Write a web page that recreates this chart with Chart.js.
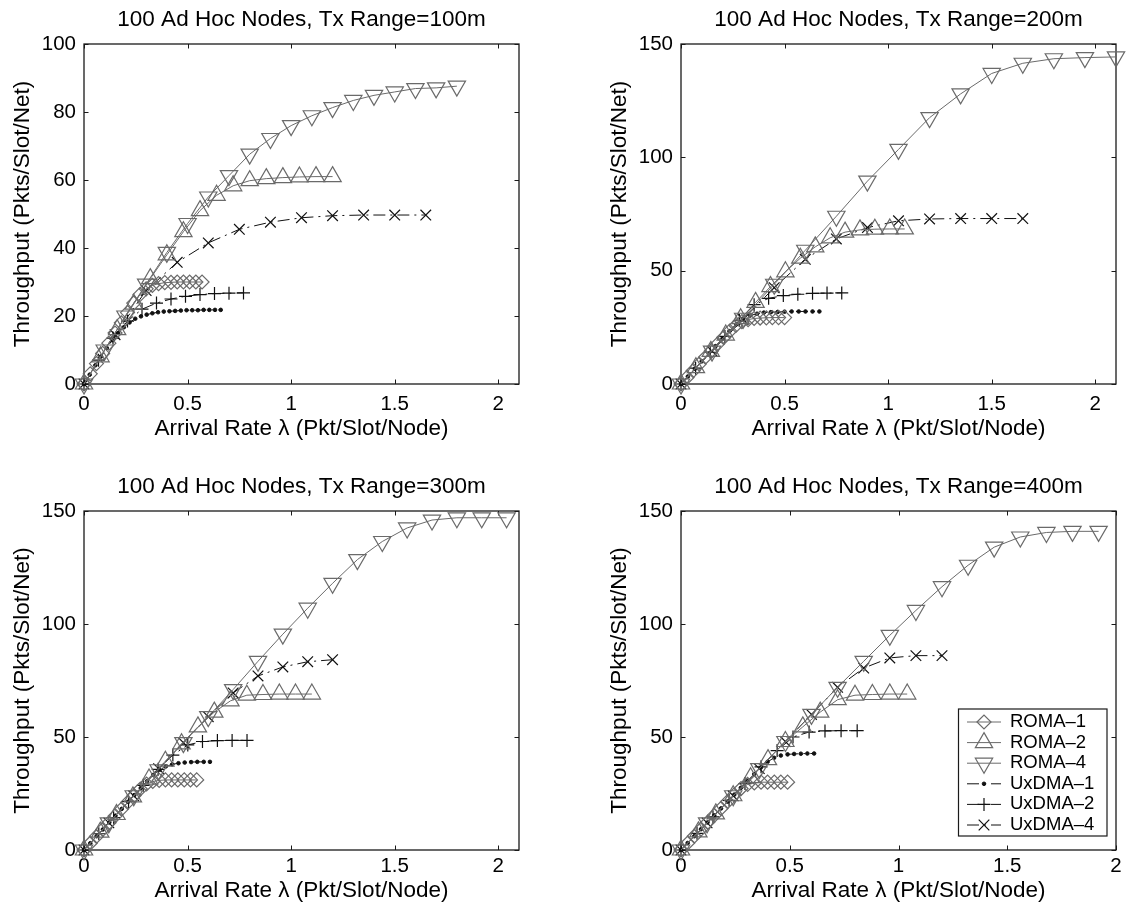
<!DOCTYPE html>
<html>
<head>
<meta charset="utf-8">
<script src="https://cdn.jsdelivr.net/npm/chart.js@4.4.1/dist/chart.umd.min.js"></script>
<style>
html,body{margin:0;padding:0;background:#fff;}
body{width:1128px;height:913px;position:relative;overflow:hidden;}
canvas{position:absolute;display:block;}
</style>
</head>
<body>
<canvas id="c1" width="564" height="456" style="left:0;top:0;width:564px;height:456px"></canvas>
<canvas id="c2" width="564" height="456" style="left:564px;top:0;width:564px;height:456px"></canvas>
<canvas id="c3" width="564" height="457" style="left:0;top:456px;width:564px;height:457px"></canvas>
<canvas id="c4" width="564" height="457" style="left:564px;top:456px;width:564px;height:457px"></canvas>
<script>
// ---------- text ----------
const seriesLabels = ['ROMA–1', 'ROMA–2', 'ROMA–4', 'UxDMA–1', 'UxDMA–2', 'UxDMA–4'];
const panelTitles = [
  '100 Ad Hoc Nodes, Tx Range=100m',
  '100 Ad Hoc Nodes, Tx Range=200m',
  '100 Ad Hoc Nodes, Tx Range=300m',
  '100 Ad Hoc Nodes, Tx Range=400m'
];
const xAxisTitle = 'Arrival Rate λ (Pkt/Slot/Node)';
const yAxisTitle = 'Throughput (Pkts/Slot/Net)';
const xTickValues = [0, 0.5, 1, 1.5, 2];
const yTicks100 = [0, 20, 40, 60, 80, 100];
const yTicks150 = [0, 50, 100, 150];

// ---------- Tx Range = 100m ----------
const r100_roma1_x = [0,0.03,0.06,0.09,0.12,0.15,0.18,0.21,0.24,0.27,0.3,0.33,0.36,0.39,0.42,0.45,0.48,0.51,0.54,0.57];
const r100_roma1_y = [0,3,6,9,12,15,18,21,23.8,26.3,28,29,29.5,29.8,29.9,30,30,30,30,30];
const r100_roma2_x = [0,0.08,0.16,0.24,0.32,0.4,0.48,0.56,0.64,0.72,0.8,0.88,0.96,1.04,1.12,1.2];
const r100_roma2_y = [0,8,16,23.5,31,38,44.8,51,55.5,58.3,59.8,60.4,60.7,60.9,61,61];
const r100_roma4_x = [0,0.1,0.2,0.3,0.4,0.5,0.6,0.7,0.8,0.9,1.0,1.1,1.2,1.3,1.4,1.5,1.6,1.7,1.8];
const r100_roma4_y = [0,10,20,29.4,38.7,47.2,55,61.3,67.6,72.2,76,78.9,81.3,83.4,84.9,85.9,86.9,87.1,87.6];
const r100_ux1_x = [0,0.0275,0.055,0.0825,0.11,0.1375,0.165,0.1925,0.22,0.2475,0.275,0.3025,0.33,0.3575,0.385,0.4125,0.44,0.4675,0.495,0.5225,0.55,0.5775,0.605,0.6325,0.66];
const r100_ux1_y = [0,2.75,5.5,8.1,10.6,12.9,15,16.7,18.1,19.2,19.9,20.4,20.8,21.1,21.3,21.4,21.5,21.6,21.7,21.7,21.7,21.8,21.8,21.8,21.8];
const r100_ux2_x = [0,0.07,0.14,0.21,0.28,0.35,0.42,0.49,0.56,0.63,0.7,0.77];
const r100_ux2_y = [0,7,13.5,18.5,22,23.8,25,25.8,26.3,26.6,26.7,26.8];
const r100_ux4_x = [0,0.15,0.3,0.45,0.6,0.75,0.9,1.05,1.2,1.35,1.5,1.65];
const r100_ux4_y = [0,14.5,27.5,35.8,41.5,45.5,47.6,48.9,49.5,49.7,49.7,49.7];

// ---------- Tx Range = 200m ----------
const r200_roma1_x = [0,0.029,0.059,0.088,0.118,0.147,0.176,0.206,0.235,0.265,0.294,0.324,0.353,0.382,0.412,0.441,0.471,0.5];
const r200_roma1_y = [0,2.9,5.9,8.8,11.8,14.7,17.6,20.5,23.3,25.8,27.5,28.4,28.9,29.1,29.2,29.3,29.3,29.3];
const r200_roma2_x = [0,0.072,0.144,0.216,0.288,0.36,0.432,0.504,0.576,0.648,0.72,0.792,0.864,0.936,1.008,1.08];
const r200_roma2_y = [0,7.2,14.4,21.6,28.8,36,43,49.5,55.5,60.5,64.5,67,68,68.3,68.4,68.4];
const r200_roma4_x = [0,0.15,0.3,0.45,0.6,0.75,0.9,1.05,1.2,1.35,1.5,1.65,1.8,1.95,2.1];
const r200_roma4_y = [0,14.5,29,44,59,74,89.5,103.5,117.5,128,137,141.5,143.5,144,144.3];
const r200_ux1_x = [0,0.033,0.067,0.1,0.134,0.167,0.2,0.234,0.267,0.3,0.334,0.367,0.4,0.434,0.467,0.5,0.534,0.568,0.601,0.635,0.668];
const r200_ux1_y = [0,3.3,6.7,10,13.4,16.7,20,23.3,26.3,28.6,30.2,31,31.5,31.7,31.8,31.9,32,32,32,32,32];
const r200_ux2_x = [0,0.0705,0.141,0.212,0.282,0.353,0.423,0.494,0.564,0.635,0.705,0.776];
const r200_ux2_y = [0,7,14,21,28,35,37.8,39,39.6,40,40.1,40.2];
const r200_ux4_x = [0,0.15,0.3,0.45,0.6,0.75,0.9,1.05,1.2,1.35,1.5,1.65];
const r200_ux4_y = [0,14.5,28.5,42.5,55,64,69,72,72.8,73,73,73];

// ---------- Tx Range = 300m ----------
const r300_roma1_x = [0,0.03,0.06,0.091,0.121,0.151,0.181,0.211,0.242,0.272,0.302,0.332,0.363,0.393,0.423,0.453,0.484,0.514,0.544];
const r300_roma1_y = [0,3,6,9.1,12.1,15.1,18.1,21.1,24.1,27,29.2,30.3,30.8,31,31,31,31,31,31];
const r300_roma2_x = [0,0.0786,0.157,0.236,0.314,0.393,0.471,0.55,0.629,0.707,0.786,0.864,0.943,1.021,1.1];
const r300_roma2_y = [0,7.9,15.7,23.5,31.4,39.3,47,54.5,61,66,68.5,68.8,69,69,69];
const r300_roma4_x = [0,0.12,0.24,0.36,0.48,0.6,0.72,0.84,0.96,1.08,1.2,1.32,1.44,1.56,1.68,1.8,1.92,2.04];
const r300_roma4_y = [0,12,24,35.5,47.5,59,71,83.5,95.5,107,118,128.5,136.5,142.5,146,147,147,147];
const r300_ux1_x = [0,0.0304,0.0608,0.0912,0.122,0.152,0.182,0.213,0.243,0.274,0.304,0.334,0.365,0.395,0.426,0.456,0.486,0.517,0.547,0.578,0.608];
const r300_ux1_y = [0,3,6.1,9.1,12.2,15.2,18.2,21.3,24.3,27.4,30.4,33.2,35.5,37,37.9,38.4,38.7,38.9,39,39,39];
const r300_ux2_x = [0,0.0715,0.143,0.215,0.286,0.358,0.429,0.501,0.572,0.644,0.715,0.787];
const r300_ux2_y = [0,7.2,14.3,21.5,28.6,35.7,42,46.5,48,48.4,48.5,48.5];
const r300_ux4_x = [0,0.12,0.24,0.36,0.48,0.6,0.72,0.84,0.96,1.08,1.2];
const r300_ux4_y = [0,12,24,36,47.5,59,69.5,77,81,83.3,84.2];

// ---------- Tx Range = 400m ----------
const r400_roma1_x = [0,0.031,0.061,0.092,0.123,0.153,0.184,0.214,0.245,0.276,0.306,0.337,0.368,0.398,0.429,0.459,0.49];
const r400_roma1_y = [0,3.1,6.1,9.2,12.3,15.3,18.4,21.4,24.4,27.2,29,29.7,30,30,30,30,30];
const r400_roma2_x = [0,0.08,0.16,0.24,0.32,0.4,0.48,0.56,0.64,0.72,0.8,0.88,0.96,1.04];
const r400_roma2_y = [0,8,16,24,32,40,48,54.5,61,66.5,68.5,68.8,69,69];
const r400_roma4_x = [0,0.12,0.24,0.36,0.48,0.6,0.72,0.84,0.96,1.08,1.2,1.32,1.44,1.56,1.68,1.8,1.92];
const r400_roma4_y = [0,12,24,36,48,60,72,83.5,95,106,116.5,126,134,138.5,140.5,141,141];
const r400_ux1_x = [0,0.0306,0.0612,0.0918,0.122,0.153,0.184,0.214,0.245,0.275,0.306,0.337,0.367,0.398,0.428,0.459,0.49,0.52,0.551,0.581,0.612];
const r400_ux1_y = [0,3.1,6.1,9.2,12.2,15.3,18.4,21.4,24.5,27.5,30.6,33.6,36.5,39,40.8,41.8,42.3,42.5,42.6,42.7,42.7];
const r400_ux2_x = [0,0.0736,0.147,0.221,0.294,0.368,0.442,0.515,0.589,0.662,0.736,0.81];
const r400_ux2_y = [0,7.4,14.7,22,29.4,36.8,44,50,52.2,52.7,52.8,52.8];
const r400_ux4_x = [0,0.12,0.24,0.36,0.48,0.6,0.72,0.84,0.96,1.08,1.2];
const r400_ux4_y = [0,12,24,36,48,60,72,80.5,85,86,86];

// ---------- styles ----------
const FONT = '"Liberation Sans", Arial, Helvetica, sans-serif';
const GREY = '#6a6a6a';
const BLACK = '#111111';
const NOFILL = 'rgba(0,0,0,0)';
const DASHDOT = [12, 5, 2, 5];
const seriesStyles = [
  {color: GREY,  pointStyle: 'rectRot',  radius: 7,   rotation: 0,   dash: [],      fill: NOFILL, pw: 1.2},
  {color: GREY,  pointStyle: 'triangle', radius: 10,  rotation: 0,   dash: [],      fill: NOFILL, pw: 1.2},
  {color: GREY,  pointStyle: 'triangle', radius: 10,  rotation: 180, dash: [],      fill: NOFILL, pw: 1.2},
  {color: BLACK, pointStyle: 'circle',   radius: 1.8, rotation: 0,   dash: DASHDOT, fill: BLACK,  pw: 1},
  {color: BLACK, pointStyle: 'cross',    radius: 6.5, rotation: 0,   dash: DASHDOT, fill: NOFILL, pw: 1.2},
  {color: BLACK, pointStyle: 'crossRot', radius: 7.5, rotation: 0,   dash: DASHDOT, fill: NOFILL, pw: 1.2}
];

function pts(xs, ys) { return xs.map((v, i) => ({x: v, y: ys[i]})); }

const panelSeries = [
  [[r100_roma1_x, r100_roma1_y], [r100_roma2_x, r100_roma2_y], [r100_roma4_x, r100_roma4_y], [r100_ux1_x, r100_ux1_y], [r100_ux2_x, r100_ux2_y], [r100_ux4_x, r100_ux4_y]],
  [[r200_roma1_x, r200_roma1_y], [r200_roma2_x, r200_roma2_y], [r200_roma4_x, r200_roma4_y], [r200_ux1_x, r200_ux1_y], [r200_ux2_x, r200_ux2_y], [r200_ux4_x, r200_ux4_y]],
  [[r300_roma1_x, r300_roma1_y], [r300_roma2_x, r300_roma2_y], [r300_roma4_x, r300_roma4_y], [r300_ux1_x, r300_ux1_y], [r300_ux2_x, r300_ux2_y], [r300_ux4_x, r300_ux4_y]],
  [[r400_roma1_x, r400_roma1_y], [r400_roma2_x, r400_roma2_y], [r400_roma4_x, r400_roma4_y], [r400_ux1_x, r400_ux1_y], [r400_ux2_x, r400_ux2_y], [r400_ux4_x, r400_ux4_y]]
];

const panelLayout = [
  {id: 'c1', xMax: 2.1, yMax: 100, yTicks: yTicks100, pad: {left: 9,  top: 6.5,  right: 45, bottom: 13.5}, xH: 58.5, xTickPad: 7.7, legend: false},
  {id: 'c2', xMax: 2.1, yMax: 150, yTicks: yTicks150, pad: {left: 42, top: 6.5,  right: 12, bottom: 13.5}, xH: 58.5, xTickPad: 7.7, legend: false},
  {id: 'c3', xMax: 2.1, yMax: 150, yTicks: yTicks150, pad: {left: 9,  top: 17.5, right: 45, bottom: 8.5},  xH: 54.5, xTickPad: 3.7, legend: false},
  {id: 'c4', xMax: 2.0, yMax: 150, yTicks: yTicks150, pad: {left: 42, top: 17.5, right: 12, bottom: 8.5},  xH: 54.5, xTickPad: 3.7, legend: true}
];

// frame box + inward tick marks (positions from the chart's scales)
const frameTicks = {
  id: 'frameTicks',
  beforeDatasetsDraw(chart) {
    const {ctx, chartArea: a} = chart;
    const sx = chart.scales.x, sy = chart.scales.y;
    const L = 4.5;
    ctx.save();
    ctx.strokeStyle = '#1a1a1a';
    ctx.lineWidth = 1;
    ctx.beginPath();
    sx.ticks.forEach(t => {
      const p = Math.round(sx.getPixelForValue(t.value)) + 0.5;
      ctx.moveTo(p, a.bottom); ctx.lineTo(p, a.bottom - L);
      ctx.moveTo(p, a.top); ctx.lineTo(p, a.top + L);
    });
    sy.ticks.forEach(t => {
      const p = Math.round(sy.getPixelForValue(t.value)) + 0.5;
      ctx.moveTo(a.left, p); ctx.lineTo(a.left + L, p);
      ctx.moveTo(a.right, p); ctx.lineTo(a.right - L, p);
    });
    ctx.stroke();
    ctx.lineWidth = 1.3;
    ctx.strokeRect(a.left, a.top, a.right - a.left, a.bottom - a.top);
    ctx.restore();
  }
};

// inset legend box inside the plot area
const insetLegend = {
  id: 'insetLegend',
  afterDatasetsDraw(chart, args, opts) {
    if (!opts || !opts.show) return;
    const {ctx, chartArea: a} = chart;
    const w = 148.5, h = 127;
    const bx = a.right - 9 - w, by = a.bottom - 14 - h;
    ctx.save();
    ctx.fillStyle = '#fff';
    ctx.fillRect(bx, by, w, h);
    ctx.strokeStyle = '#1a1a1a';
    ctx.lineWidth = 1.2;
    ctx.strokeRect(bx, by, w, h);
    ctx.font = '18.5px ' + FONT;
    ctx.textBaseline = 'middle';
    ctx.textAlign = 'left';
    chart.data.datasets.forEach((ds, i) => {
      const cy = by + 13 + i * 20.6;
      ctx.strokeStyle = ds.borderColor;
      ctx.lineWidth = ds.borderWidth;
      ctx.setLineDash(ds.borderDash || []);
      ctx.beginPath();
      ctx.moveTo(bx + 8.5, cy);
      ctx.lineTo(bx + 42.5, cy);
      ctx.stroke();
      ctx.setLineDash([]);
      ctx.strokeStyle = ds.pointBorderColor;
      ctx.fillStyle = ds.pointBackgroundColor;
      ctx.lineWidth = ds.pointBorderWidth;
      Chart.helpers.drawPoint(ctx, {
        pointStyle: ds.pointStyle, rotation: ds.pointRotation || 0,
        radius: ds.pointRadius, borderWidth: ds.pointBorderWidth
      }, bx + 25.5, cy);
      ctx.fillStyle = '#000';
      ctx.fillText(ds.label, bx + 51.5, cy);
    });
    ctx.restore();
  }
};

Chart.defaults.font.family = FONT;
Chart.defaults.color = '#000';

panelLayout.forEach((pl, k) => {
  const datasets = panelSeries[k].map((s, i) => {
    const st = seriesStyles[i];
    return {
      label: seriesLabels[i],
      data: pts(s[0], s[1]),
      showLine: true,
      borderColor: st.color,
      borderWidth: 1,
      borderDash: st.dash,
      pointStyle: st.pointStyle,
      pointRadius: st.radius,
      pointRotation: st.rotation,
      pointBorderColor: st.color,
      pointBackgroundColor: st.fill,
      pointBorderWidth: st.pw,
      pointHoverRadius: st.radius,
      tension: 0,
      clip: false
    };
  });
  new Chart(document.getElementById(pl.id), {
    type: 'scatter',
    data: {datasets},
    plugins: [frameTicks, insetLegend],
    options: {
      responsive: false,
      animation: false,
      events: [],
      layout: {padding: pl.pad},
      plugins: {
        legend: {display: false},
        tooltip: {enabled: false},
        title: {
          display: true,
          text: panelTitles[k],
          fullSize: false,
          color: '#000',
          font: {size: 22.5, weight: 'normal', family: FONT, lineHeight: 1.2},
          padding: {top: 0, bottom: 10.5}
        },
        insetLegend: {show: pl.legend}
      },
      scales: {
        x: {
          type: 'linear',
          min: 0, max: pl.xMax,
          grid: {display: false, drawTicks: false},
          border: {display: false},
          afterBuildTicks: s => { s.ticks = xTickValues.map(v => ({value: v})); },
          afterFit: s => { s.height = pl.xH; },
          ticks: {
            padding: pl.xTickPad, maxRotation: 0, autoSkip: false, color: '#000',
            font: {size: 20.5, family: FONT, lineHeight: 1.2},
            callback: v => String(v)
          },
          title: {
            display: true, text: xAxisTitle, color: '#000', padding: 0,
            font: {size: 22.5, family: FONT, lineHeight: 1.2}
          }
        },
        y: {
          type: 'linear',
          min: 0, max: pl.yMax,
          grid: {display: false, drawTicks: false},
          border: {display: false},
          afterBuildTicks: s => { s.ticks = pl.yTicks.map(v => ({value: v})); },
          afterFit: s => { s.width = 75; },
          ticks: {
            padding: 8, autoSkip: false, color: '#000',
            font: {size: 20.5, family: FONT, lineHeight: 1.2},
            callback: v => String(v)
          },
          title: {
            display: true, text: yAxisTitle, color: '#000', padding: 0,
            font: {size: 22.5, family: FONT, lineHeight: 1.2}
          }
        }
      }
    }
  });
});
</script>
</body>
</html>
